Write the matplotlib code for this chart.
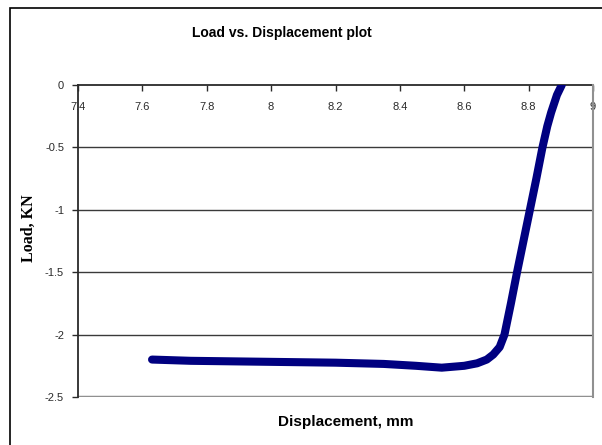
import matplotlib
matplotlib.use("Agg")
import matplotlib.pyplot as plt
from matplotlib.patches import Rectangle

# values
disp = [7.63, 7.75, 7.90, 8.05, 8.20, 8.35, 8.45, 8.53, 8.60, 8.64, 8.67, 8.69,
        8.71, 8.725, 8.745, 8.764, 8.784, 8.804, 8.824, 8.843, 8.858, 8.870,
        8.888, 8.903]
load = [-2.20, -2.21, -2.215, -2.22, -2.225, -2.235, -2.25, -2.265, -2.25, -2.23,
        -2.20, -2.16, -2.10, -2.00, -1.75, -1.50, -1.25, -1.00, -0.75, -0.50,
        -0.33, -0.22, -0.08, 0.0]
x_ticks = [7.4, 7.6, 7.8, 8.0, 8.2, 8.4, 8.6, 8.8, 9.0]
x_labels = ["7.4", "7.6", "7.8", "8", "8.2", "8.4", "8.6", "8.8", "9"]
y_ticks = [0, -0.5, -1, -1.5, -2, -2.5]
y_labels = ["0", "-0.5", "-1", "-1.5", "-2", "-2.5"]

plt.rcParams['font.family'] = ['Liberation Sans', 'DejaVu Sans']

fig = plt.figure(figsize=(6.02, 4.45), dpi=100)

# outer chart frame
fig.patches.append(Rectangle((10/602, -0.05), 1.2, 1 - 8/445 + 0.05,
                             transform=fig.transFigure, fill=False,
                             edgecolor='black', linewidth=1.2))

ax = fig.add_axes([78/602, 1 - 397/445, (593 - 78)/602, (397 - 85)/445])

# horizontal gridlines
for yv in y_ticks[1:-1]:
    ax.axhline(yv, color='#3a3a3a', linewidth=1.0, zorder=1)

ax.plot(disp, load, color='#000080', linewidth=5.8, solid_capstyle='round',
        solid_joinstyle='round', zorder=3)

ax.set_xlim(7.4, 9.0)
ax.set_ylim(-2.5, 0)

# x axis crosses at 0 (top of plot)
ax.spines['bottom'].set_position(('data', 0))
ax.spines['bottom'].set_color('#2a2a2a')
ax.spines['bottom'].set_linewidth(1.3)
ax.spines['bottom'].set_zorder(2)
ax.spines['top'].set_visible(False)
ax.spines['left'].set_color('#2a2a2a')
ax.spines['left'].set_linewidth(1.3)
ax.spines['right'].set_color('#909090')
ax.spines['right'].set_linewidth(1.5)
ax.axhline(-2.5, color='#909090', linewidth=2.5, zorder=1)

ax.set_xticks(x_ticks)
ax.set_xticklabels(x_labels)
ax.set_yticks(y_ticks)
ax.set_yticklabels(y_labels)
ax.tick_params(axis='x', direction='out', length=4, width=1, pad=8,
               labelsize=8, colors='#2a2a2a')
ax.tick_params(axis='y', direction='out', length=4, width=1, pad=6,
               labelsize=8, colors='#2a2a2a')

fig.text(282/602, 1 - 33/445, "Load vs. Displacement plot", ha='center',
         va='center', fontsize=10, fontweight='bold')
fig.text(346/602, 1 - 422/445, "Displacement, mm", ha='center', va='center',
         fontsize=11, fontweight='bold')
fig.text(29/602, 1 - 228/445, "Load, KN", ha='center', va='center',
         rotation=90, fontsize=11.5, fontweight='bold',
         family=['Liberation Serif', 'DejaVu Serif'])

fig.savefig("out.png", dpi=100)
